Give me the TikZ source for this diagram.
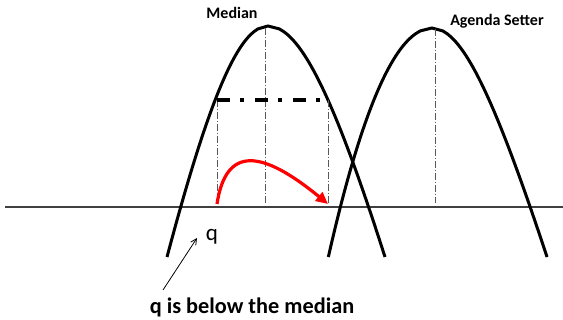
\documentclass[tikz,border=0pt]{standalone}
\usepackage{fontspec}
\setmainfont{Carlito}
\usetikzlibrary{arrows.meta}
\begin{document}
\begin{tikzpicture}[x=1pt,y=-1pt,
  curve/.style={line width=3pt,black,line join=round},
  guide/.style={line width=0.9pt,black!65,dash pattern=on 7pt off 2pt on 1pt off 2pt},
  axisline/.style={line width=1.3pt,black!75},
  toptick/.style={line width=3.6pt,black,dash pattern=on 13pt off 10pt on 3.5pt off 11.5pt},
  move/.style={line width=3.2pt,red,-{Triangle[length=12pt,width=11pt]}},
  lbl/.style={font=\bfseries\fontsize{16}{18}\selectfont,inner sep=0pt},
  pointer/.style={line width=0.8pt,black,-{Straight Barb[length=6pt,width=6pt]}}
]
\useasboundingbox (0,0) rectangle (563,320);
\fill[white] (0,0) rectangle (563,320);

% axis
\coordinate (axL) at (5,207);
\coordinate (axR) at (563,207);
\draw[axisline] (axL) -- (axR);

% median curve (peak 268,26)
\draw[curve] plot[domain=231:0,samples=80,variable=\t] ({268-0.2019*sqrt(\t)*sqrt(\t+852)},{26+\t})
  -- plot[domain=0:231,samples=80,variable=\t] ({268+0.26*sqrt(\t)*sqrt(\t+645.6)},{26+\t});
% agenda setter curve (peak 432,28)
\draw[curve] plot[domain=229:0,samples=80,variable=\t] ({432-6.85*sqrt(\t)},{28+\t})
  -- plot[domain=0:229,samples=80,variable=\t] ({432+0.2815*sqrt(\t)*sqrt(\t+500)},{28+\t});

% guides
\coordinate (mTop) at (265,28);
\coordinate (mBot) at (265,203);
\draw[guide] (mTop) -- (mBot);
\coordinate (aTop) at (435,29);
\coordinate (aBot) at (435,203);
\draw[guide] (aTop) -- (aBot);

\coordinate (rTL) at (217,100);
\coordinate (rTR) at (330,100);
\coordinate (rRT) at (328,100);
\coordinate (rBL) at (217,204);
\coordinate (rBR) at (328,204);
\draw[guide] (rTL) -- (rBL);
\draw[guide] (rRT) -- (rBR);
\draw[toptick] (rTL) -- (rTR);

% red arrow
\draw[move] (rBL) .. controls (226,145) and (262,150) .. (rBR);

% labels
\node[lbl,anchor=base] (median) at (232,19) {Median};
\node[lbl,anchor=base] (agenda) at (497,26) {Agenda Setter};
\node[inner sep=0pt,anchor=base,font=\fontsize{23}{26}\selectfont] (q) at (212,241) {q};
\node[inner sep=0pt,anchor=base,font=\bfseries\fontsize{22.3}{24}\selectfont] (note) at (252,313.5) {q is below the median};

\coordinate (pStart) at (163,290);
\coordinate (pEnd) at (197,238);
\draw[pointer] (pStart) -- (pEnd);
\end{tikzpicture}
\end{document}
